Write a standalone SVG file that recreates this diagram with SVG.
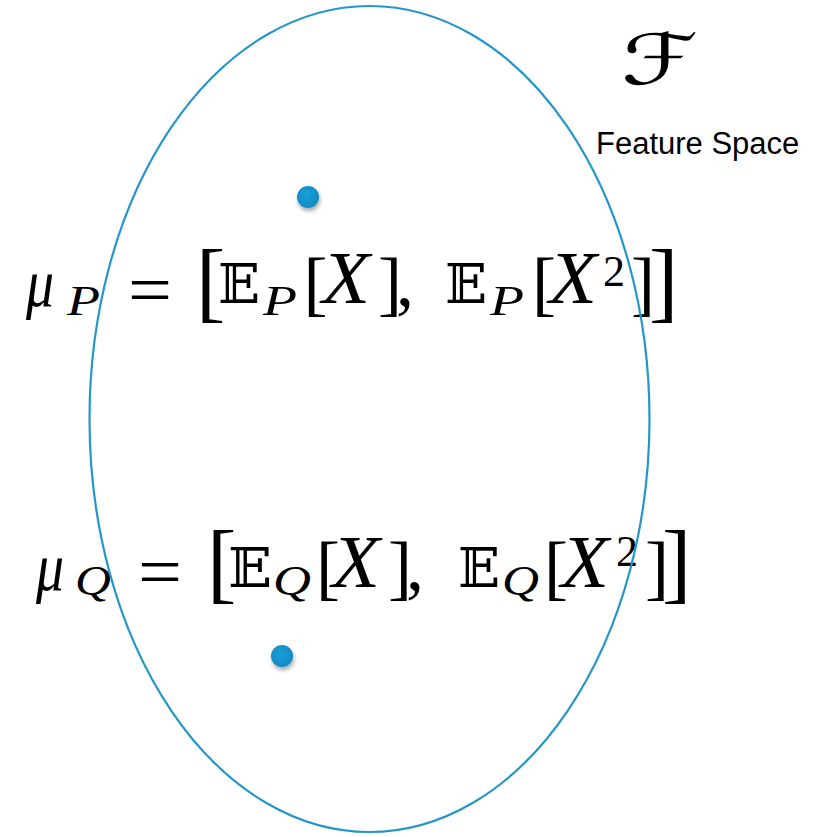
<svg xmlns="http://www.w3.org/2000/svg" width="830" height="837" viewBox="0 0 830 837">
<style>
.m{font-family:"Liberation Serif","DejaVu Serif",serif;fill:#000}
.i{font-style:italic}
.bb{font-family:"DejaVu Serif","DejaVu Sans",serif;fill:#000}
.cal{font-family:"DejaVu Sans",sans-serif;font-style:oblique;fill:#000}
.lbl{font-family:"Liberation Sans",Arial,sans-serif;font-size:31px;fill:#000}
</style>
<defs>
<radialGradient id="dg" cx="0.45" cy="0.4" r="0.6">
<stop offset="0" stop-color="#1aa0d8"/>
<stop offset="1" stop-color="#1188c2"/>
</radialGradient>
<filter id="sh" x="-50%" y="-50%" width="200%" height="200%">
<feDropShadow dx="1" dy="3" stdDeviation="2" flood-color="#000" flood-opacity="0.35"/>
</filter>
</defs>
<rect width="830" height="837" fill="#fff"/>
<g id="label-F">
<text class="cal" transform="translate(621,84) scale(1.4,1)" font-size="70">ℱ</text>
<text class="lbl" x="596" y="154">Feature Space</text>
</g>
<g id="formula-P">
<text class="m i" x="26" y="306" font-size="68" textLength="28" lengthAdjust="spacingAndGlyphs">μ</text>
<text class="m i" x="67" y="315" font-size="42" textLength="33" lengthAdjust="spacingAndGlyphs">P</text>
<text class="m" x="128" y="314" font-size="72" textLength="44" lengthAdjust="spacingAndGlyphs">=</text>
<text class="m" x="196" y="311" font-size="88">[</text>
<text class="bb" x="218" y="303" font-size="55" textLength="42" lengthAdjust="spacingAndGlyphs">𝔼</text>
<text class="m i" x="263" y="315" font-size="42" textLength="34" lengthAdjust="spacingAndGlyphs">P</text>
<text class="m" x="303.5" y="307" font-size="72">[</text>
<text class="m i" x="322" y="303" font-size="74" textLength="48" lengthAdjust="spacingAndGlyphs">X</text>
<text class="m" x="378" y="307" font-size="72">]</text>
<text class="m" x="396" y="305" font-size="72">,</text>
<text class="bb" x="445" y="303" font-size="55" textLength="42" lengthAdjust="spacingAndGlyphs">𝔼</text>
<text class="m i" x="490" y="315" font-size="42" textLength="34" lengthAdjust="spacingAndGlyphs">P</text>
<text class="m" x="532" y="307" font-size="72">[</text>
<text class="m i" x="549" y="303" font-size="74" textLength="48" lengthAdjust="spacingAndGlyphs">X</text>
<text class="m" x="603" y="286" font-size="44">2</text>
<text class="m" x="631" y="307" font-size="72">]</text>
<text class="m" x="649" y="311" font-size="88">]</text>
</g>
<g id="formula-Q">
<text class="m i" x="36" y="590" font-size="68" textLength="28" lengthAdjust="spacingAndGlyphs">μ</text>
<text class="m i" x="75" y="595" font-size="42" textLength="36" lengthAdjust="spacingAndGlyphs">Q</text>
<text class="m" x="138" y="596" font-size="72" textLength="44" lengthAdjust="spacingAndGlyphs">=</text>
<text class="m" x="207" y="592" font-size="88">[</text>
<text class="bb" x="228" y="587" font-size="55" textLength="44" lengthAdjust="spacingAndGlyphs">𝔼</text>
<text class="m i" x="273" y="595" font-size="42" textLength="38" lengthAdjust="spacingAndGlyphs">Q</text>
<text class="m" x="316" y="591" font-size="72">[</text>
<text class="m i" x="332" y="587" font-size="74" textLength="48" lengthAdjust="spacingAndGlyphs">X</text>
<text class="m" x="388" y="591" font-size="72">]</text>
<text class="m" x="406" y="589" font-size="72">,</text>
<text class="bb" x="458" y="587" font-size="55" textLength="42" lengthAdjust="spacingAndGlyphs">𝔼</text>
<text class="m i" x="502" y="595" font-size="42" textLength="37" lengthAdjust="spacingAndGlyphs">Q</text>
<text class="m" x="544" y="591" font-size="72">[</text>
<text class="m i" x="561" y="587" font-size="74" textLength="48" lengthAdjust="spacingAndGlyphs">X</text>
<text class="m" x="616" y="566" font-size="44">2</text>
<text class="m" x="645" y="591" font-size="72">]</text>
<text class="m" x="662" y="592" font-size="88">]</text>
</g>
<g id="feature-space">
<ellipse cx="369.5" cy="419" rx="280" ry="413" fill="none" stroke="#2596c9" stroke-width="2.2"/>
</g>
<g id="point-P">
<circle cx="308" cy="197" r="11" fill="url(#dg)" filter="url(#sh)"/>
</g>
<g id="point-Q">
<circle cx="282" cy="656" r="11" fill="url(#dg)" filter="url(#sh)"/>
</g>
</svg>
